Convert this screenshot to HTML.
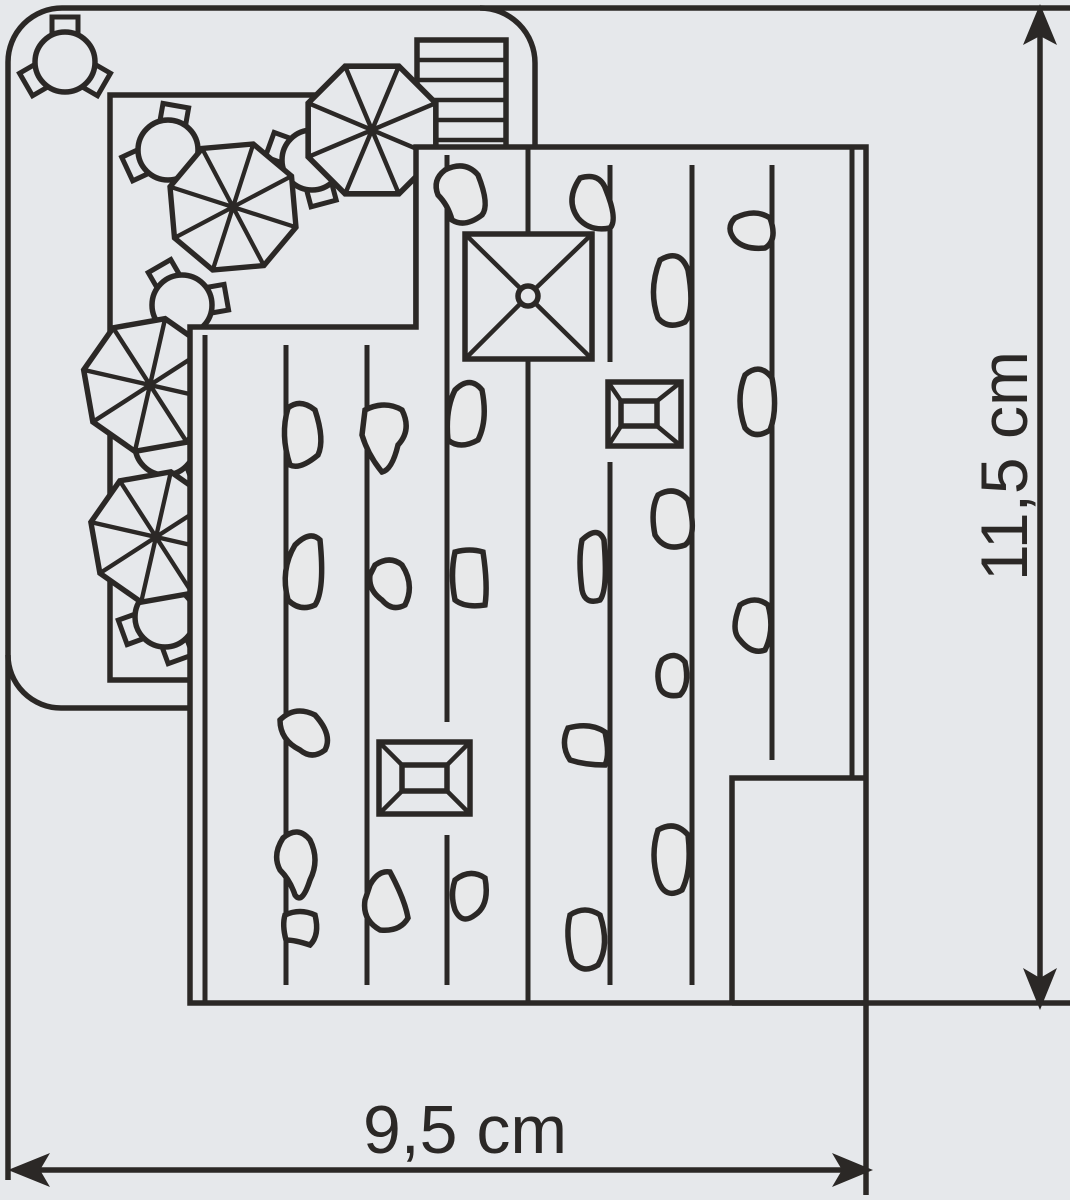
<!DOCTYPE html>
<html><head><meta charset="utf-8"><style>
html,body{margin:0;padding:0;background:#e6e8eb;}
svg{display:block}
</style></head><body>
<svg width="1070" height="1200" viewBox="0 0 1070 1200" xmlns="http://www.w3.org/2000/svg">
<defs>
<g id="umb">
<polygon points="57,24 24,57 -24,57 -57,24 -57,-24 -24,-57 24,-57 57,-24" fill="#e6e8eb" stroke="#2b2826" stroke-width="5" stroke-linejoin="miter"/>
<path d="M57,24 L-57,-24 M24,57 L-24,-57 M-24,57 L24,-57 M-57,24 L57,-24" stroke="#2b2826" stroke-width="4"/>
</g>
<rect id="chair" x="-13" y="-45" width="26" height="17" fill="#e6e8eb" stroke="#2b2826" stroke-width="5"/>
<circle id="tbl" r="30" fill="#e6e8eb" stroke="#2b2826" stroke-width="5.5"/>
</defs>
<rect width="1070" height="1200" fill="#e6e8eb"/>
<g fill="none" stroke="#2b2826" stroke-width="5.5">
<path d="M8,1180 L8,62 A54,54 0 0 1 62,8 L1070,8"/>
<path d="M480,8 A55,55 0 0 1 535,63 L535,147"/>
<path d="M8,655 A53,53 0 0 0 61,708 L190,708"/>
<path d="M190,680 L110,680 L110,95 L416,95 L416,327"/>
<rect x="417" y="40" width="89" height="110"/>
<path d="M417,60 H506 M417,80 H506 M417,100 H506 M417,120 H506 M417,140 H506" stroke-width="4.5"/>
</g>
<g transform="translate(65,62)"><use href="#chair"/><use href="#chair" transform="rotate(120)"/><use href="#chair" transform="rotate(240)"/><use href="#tbl"/></g>
<g transform="translate(168,150)"><use href="#chair" transform="rotate(10)"/><use href="#chair" transform="rotate(245)"/><use href="#tbl"/></g>
<g transform="translate(312,160)"><use href="#chair" transform="rotate(-70)"/><use href="#chair" transform="rotate(165)"/><use href="#tbl"/></g>
<g transform="translate(182,305)"><use href="#chair" transform="rotate(-30)"/><use href="#chair" transform="rotate(80)"/><use href="#tbl"/></g>
<g transform="translate(165,445)"><use href="#chair" transform="rotate(160)"/><use href="#tbl"/></g>
<g transform="translate(165,617)"><use href="#chair" transform="rotate(-110)"/><use href="#chair" transform="rotate(160)"/><use href="#tbl"/></g>
<use href="#umb" transform="translate(233,207) rotate(-5) scale(1.07)"/>
<use href="#umb" transform="translate(372,130) scale(1.12)"/>
<use href="#umb" transform="translate(150,385) rotate(-10) scale(1.1)"/>
<use href="#umb" transform="translate(156,537) rotate(-10) scale(1.08)"/>
<polygon points="190,327 416,327 416,147 866,147 866,1003 190,1003" fill="#e6e8eb" stroke="#2b2826" stroke-width="5.5"/>
<g fill="none" stroke="#2b2826" stroke-width="5">
<path d="M205,335 V1003"/>
<path d="M852,147 V778"/>
<path d="M528,147 V233 M528,360 V1003"/>
<path d="M286,345 V985 M367,345 V985 M447,155 V722 M447,835 V985"/>
<path d="M610,165 V362 M610,462 V985 M692,165 V985 M772,165 V760"/>
</g>
<g fill="none" stroke="#2b2826" stroke-width="5.5">
<path d="M732,1003 V778 H866"/>
<rect x="465" y="234" width="127" height="125" fill="#e6e8eb"/>
<path d="M465,234 L521,289 M592,234 L535,289 M465,359 L521,303 M592,359 L535,303" stroke-width="4.5"/>
<circle cx="528" cy="296" r="10"/>
<rect x="608" y="382" width="73" height="64" fill="#e6e8eb"/>
<rect x="621" y="401" width="36" height="25"/>
<path d="M608,382 L621,401 M681,382 L657,401 M608,446 L621,426 M681,446 L657,426" stroke-width="4.5"/>
<rect x="379" y="742" width="91" height="72" fill="#e6e8eb"/>
<rect x="402" y="765" width="45" height="26"/>
<path d="M379,742 L402,765 M470,742 L447,765 M379,814 L402,791 M470,814 L447,791" stroke-width="4.5"/>
</g>
<g fill="#e8e9ea" stroke="#2b2826" stroke-width="5.5">
<path d="M445,170 Q465,160 478,175 Q490,205 482,215 Q465,228 452,220 Q448,205 438,195 Q432,180 445,170Z"/>
<path d="M580,178 Q600,172 606,190 Q618,220 610,228 Q590,232 578,218 Q565,200 580,178Z"/>
<path d="M735,218 Q755,208 770,218 Q778,240 765,248 Q745,250 735,240 Q725,228 735,218Z"/>
<path d="M660,260 Q680,248 688,270 Q695,310 685,322 Q668,330 658,318 Q648,290 660,260Z"/>
<path d="M745,375 Q760,362 772,378 Q778,410 770,430 Q755,440 745,428 Q735,400 745,375Z"/>
<path d="M288,408 Q300,398 315,410 Q325,440 318,455 Q300,470 290,465 Q280,435 288,408Z"/>
<path d="M365,410 Q385,400 402,410 Q412,430 398,445 Q392,470 382,472 Q368,455 362,435Z"/>
<path d="M455,390 Q470,375 482,390 Q488,420 478,440 Q460,450 448,440 Q445,410 455,390Z"/>
<path d="M658,495 Q675,485 688,500 Q698,535 685,545 Q665,552 655,535 Q650,510 658,495Z"/>
<path d="M582,540 Q598,525 604,540 Q608,590 600,600 Q585,605 582,590 Q578,560 582,540Z"/>
<path d="M295,545 Q310,530 320,540 Q325,590 315,605 Q300,612 288,600 Q280,570 295,545Z"/>
<path d="M375,565 Q390,555 402,565 Q415,585 405,605 Q392,612 382,600 Q368,590 370,575Z"/>
<path d="M455,552 Q470,548 483,552 Q488,585 485,605 Q465,608 455,600 Q450,575 455,552Z"/>
<path d="M740,605 Q755,595 768,605 Q775,630 765,650 Q752,655 740,640 Q730,630 740,605Z"/>
<path d="M662,660 Q675,650 685,662 Q690,685 680,695 Q665,698 660,688 Q655,672 662,660Z"/>
<path d="M568,728 Q590,722 605,732 Q610,755 605,765 Q585,765 570,760 Q560,745 568,728Z"/>
<path d="M280,720 Q295,705 315,715 Q333,735 325,750 Q312,760 300,750 Q280,740 280,720Z"/>
<path d="M283,838 Q298,825 310,840 Q320,860 310,880 Q302,905 295,895 Q290,880 280,870 Q272,855 283,838Z"/>
<path d="M285,915 Q300,908 315,915 Q320,935 310,945 Q295,940 286,940 Q282,925 285,915Z"/>
<path d="M370,885 Q378,870 390,872 Q405,900 408,918 Q400,932 380,930 Q362,920 365,900Z"/>
<path d="M455,880 Q470,868 485,878 Q490,905 475,915 Q462,925 455,910 Q450,895 455,880Z"/>
<path d="M658,830 Q675,820 688,835 Q692,870 682,890 Q665,900 658,880 Q650,855 658,830Z"/>
<path d="M570,915 Q585,905 600,915 Q610,945 598,965 Q582,975 572,960 Q565,935 570,915Z"/>
</g>
<g stroke="#2b2826" stroke-width="5.5" fill="none">
<path d="M866,1003 V1195"/>
<path d="M732,1003 H1070"/>
<path d="M1040,30 V990"/>
<path d="M25,1170 H855"/>
</g>
<g fill="#2b2826">
<polygon points="1040,4 1057,45 1040,36 1023,45"/>
<polygon points="1040,1010 1057,968 1040,978 1023,968"/>
<polygon points="873,1170 832,1153 842,1170 832,1187"/>
<polygon points="8,1170 50,1153 40,1170 50,1187"/>
</g>
<text x="465" y="1153" font-family="Liberation Sans, sans-serif" font-size="68" text-anchor="middle" fill="#2b2826">9,5 cm</text>
<text transform="translate(1027,466) rotate(-90)" font-family="Liberation Sans, sans-serif" font-size="66" text-anchor="middle" fill="#2b2826">11,5 cm</text>
</svg>
</body></html>
